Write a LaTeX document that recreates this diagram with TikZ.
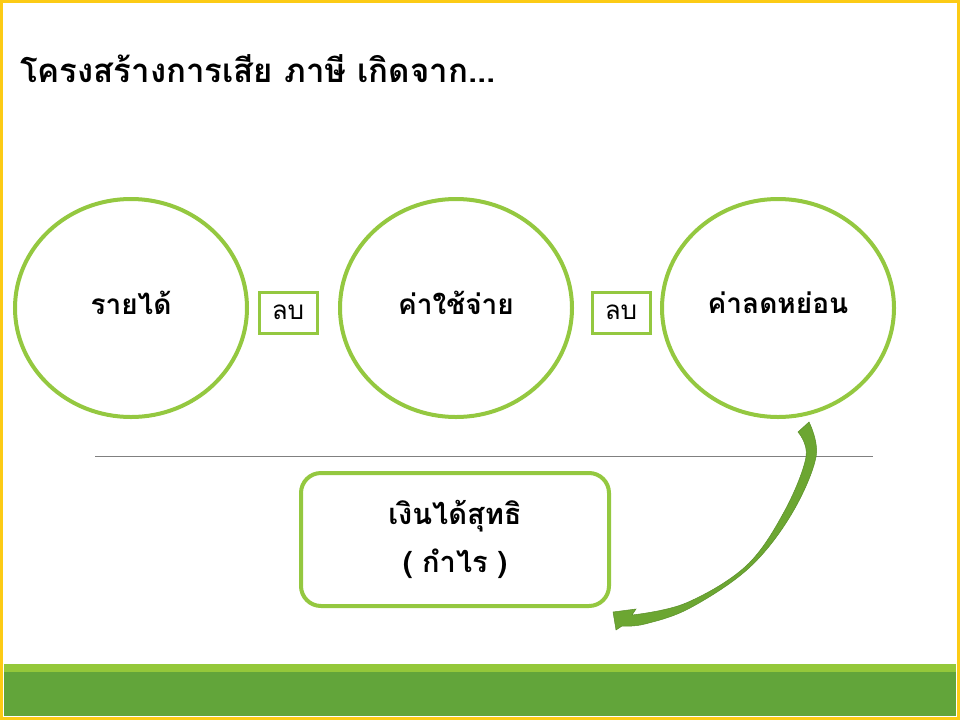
\documentclass[tikz,border=0pt]{standalone}
\usepackage{fontspec}
\usetikzlibrary{shapes.geometric}
\newfontfamily\thaifont[Script=Thai]{Loma}
\definecolor{lgreen}{HTML}{94C840}
\definecolor{bandlight}{HTML}{94C83A}
\definecolor{banddark}{HTML}{62A53A}
\definecolor{goldb}{HTML}{FCCB16}
\definecolor{arrowg}{HTML}{6CA632}
\definecolor{arrowd}{HTML}{5A8F28}
\begin{document}
\begin{tikzpicture}[x=1pt,y=-1pt,
  circ/.style={draw=lgreen,line width=4pt,ellipse,minimum width=232pt,minimum height=218pt,inner sep=0pt},
  minus/.style={draw=lgreen,line width=3pt,minimum width=58pt,minimum height=41pt,inner sep=0pt,font=\thaifont\fontsize{26}{30}\selectfont},
  ctext/.style={font=\thaifont\bfseries\fontsize{28}{32}\selectfont},
]
\useasboundingbox (0,0) rectangle (960,720);
\fill[white] (0,0) rectangle (960,720);
% bottom bands
\fill[bandlight] (4,664) rectangle (956,672);
\fill[banddark] (4,672) rectangle (956,716);
% border
\draw[goldb,line width=3pt] (1.5,1.5) rectangle (958.5,718.5);
% title
\node[anchor=base west,inner sep=0pt,font=\thaifont\bfseries\fontsize{33}{38}\selectfont] (title) at (20,82) {โครงสร้างการเสีย ภาษี เกิดจาก...};
% circles
\node[circ] (c1) at (131,308) {};
\node[circ] (c2) at (456,308) {};
\node[circ] (c3) at (778,308) {};
\node[ctext] (t1) at (131,303) {รายได้};
\node[ctext] (t2) at (456,303) {ค่าใช้จ่าย};
\node[ctext] (t3) at (778,303) {ค่าลดหย่อน};
% minus boxes
\node[minus] (m1) at (288,312.5) {ลบ};
\node[minus] (m2) at (621,312.5) {ลบ};
% separator
\coordinate (l1) at (95,456);
\coordinate (l2) at (873,456);
\draw[gray,line width=0.8pt] (l1) -- (l2);
% result box
\node[draw=lgreen,line width=4pt,rounded corners=20pt,minimum width=308pt,minimum height=133pt,inner sep=0pt] (res) at (455,539.5) {};
\node[align=center,font=\thaifont\bfseries\fontsize{29}{33}\selectfont] (rt) at (455,539) {เงินได้สุทธิ\\[15pt]( กำไร )};
% curved arrow
\fill[arrowg,draw=arrowd,line width=0.5pt]
  (798,432) -- (809,422)
  -- plot[smooth,tension=0.6] coordinates {(809,422) (816,457) (791,515) (749,568) (690,608) (645,624) (622,626)}
  -- (616,630) -- (613,612) -- (636,609) -- (632,615)
  -- plot[smooth,tension=0.6] coordinates {(632,615) (686,603) (746,566) (784,512) (806,457) (798,432)}
  -- cycle;
\end{tikzpicture}
\end{document}
